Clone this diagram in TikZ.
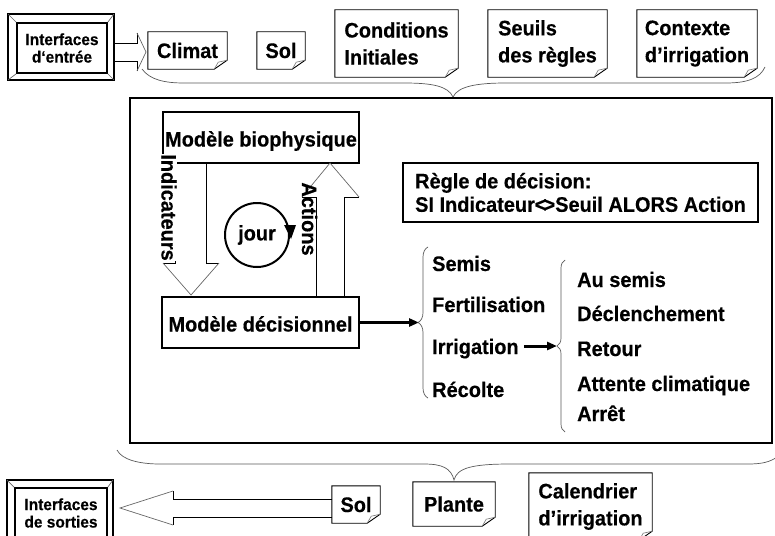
\documentclass[tikz,border=0pt]{standalone}
\usepackage{fontspec}
\setmainfont{Liberation Sans}[FakeStretch=0.95, BoldFeatures={FakeBold=0.4}]
\usetikzlibrary{arrows.meta,decorations.pathreplacing}
\newcommand\notebox[6]{% name, cx, cy, w, h, text
  \node[txt, minimum width=#4, minimum height=#5, align=left] (#1) at (#2,#3) {#6};
  \draw[noteline] (#1.north west) -- (#1.north east) -- ([yshift=9]#1.south east)
     -- ([xshift=-13]#1.south east) -- (#1.south west) -- cycle;
  \draw[foldline] ([xshift=-13]#1.south east) -- ([xshift=-9,yshift=7]#1.south east) -- ([yshift=9]#1.south east);
}
\newcommand\bevelframe[5]{% name, left, top, right, bottom offsets
  \draw[line width=1.6pt] ([xshift=-#2,yshift=#3]#1.north west) rectangle ([xshift=#4,yshift=-#5]#1.south east);
  \draw[headl] ([xshift=-#2,yshift=#3]#1.north west) -- (#1.north west);
  \draw[headl] ([xshift=#4,yshift=#3]#1.north east) -- (#1.north east);
  \draw[headl] ([xshift=-#2,yshift=-#5]#1.south west) -- (#1.south west);
  \draw[headl] ([xshift=#4,yshift=-#5]#1.south east) -- (#1.south east);
}
\begin{document}
\begin{tikzpicture}[x=1pt,y=-1pt,
  txt/.style={font=\fontsize{21}{27}\selectfont\bfseries, inner sep=0pt},
  smalltxt/.style={font=\fontsize{16.3}{17.5}\selectfont\bfseries, inner sep=0pt, align=center},
  noteline/.style={line width=0.9pt},
  foldline/.style={line width=0.6pt, black!55},
  boxl/.style={draw, line width=1.3pt},
  body/.style={line width=0.9pt},
  headl/.style={line width=0.7pt, black!60},
  brc/.style={line width=0.7pt, black!65},
  fat/.style={line width=3pt, -{Triangle[length=10pt,width=8pt]}},
  item/.style={txt, anchor=base west},
]
\useasboundingbox (0,0) rectangle (775,535);
\clip (0,0) rectangle (775,535);

% ---------- inputs ----------
\node[smalltxt, draw, line width=1.6pt, minimum width=90, minimum height=50] (inE) at (62,48) {Interfaces\\d‘entrée};
\bevelframe{inE}{8}{8}{6}{6}
\draw[body] (113,43) -- (137,43) -- (137,33);
\draw[body] (113,61) -- (137,61) -- (137,71);
\draw[headl] (137,33) -- (146,52) -- (137,71);

\notebox{climat}{187.5}{50.5}{79}{37}{Climat}
\notebox{solA}{281}{50.5}{48}{37}{Sol}
\notebox{cond}{396.5}{43.5}{123}{67}{Conditions\\Initiales}
\notebox{seuils}{547.5}{43.5}{119}{67}{Seuils\\des règles}
\notebox{ctx}{697}{43.5}{120}{67}{Contexte\\d’irrigation}

\draw[brc] (142,69) .. controls (150,80) and (165,83) .. (184,83) -- (404,83)
  .. controls (432,83) and (448,86) .. (453,97) .. controls (458,86) and (478,83) .. (506,83)
  -- (726,83) .. controls (748,83) and (760,78) .. (765,67);

% ---------- main box ----------
\node[draw, line width=2.2pt, minimum width=642, minimum height=345, inner sep=0pt] (main) at (451,270.5) {};

\node[txt, boxl, minimum width=196, minimum height=51, text height=18pt, text depth=0pt] (bio) at (261,137.5) {Modèle biophysique};
\node[txt, boxl, minimum width=197, minimum height=51, text height=18pt, text depth=0pt] (dec) at (260.5,322.5) {Modèle décisionnel};

% Indicateurs arrow
\draw[body] (175,163) -- (175,263) -- (163,263);
\draw[body] (206,163) -- (206,263) -- (219,263);
\draw[headl] (163,263) -- (191,295) -- (219,263);
\node[txt, rotate=-90, fill=white] (ind) at (169,207.5) {Indicateurs};

% Actions arrow
\draw[body] (316,297) -- (316,197) -- (302,197);
\draw[body] (344,297) -- (344,197) -- (359,197);
\draw[headl] (302,197) -- (330,163) -- (359,197);
\node[txt, rotate=-90] (act) at (309.5,219) {Actions};

% jour cycle
\node[txt, draw, circle, line width=2pt, minimum size=64] (jour) at (257,235) {jour};
\fill ([xshift=-6,yshift=10]jour.east) -- ([xshift=6,yshift=10]jour.east) -- ([xshift=1,yshift=-4]jour.east) -- cycle;

% decision rule
\node[txt, boxl, minimum width=355, minimum height=59, align=left,
      font=\fontsize{21}{23.4}\selectfont\bfseries] (regle) at (580.5,192.5)
  {Règle de décision:\\SI Indicateur<\kern-3pt>Seuil ALORS Action};

% actions list
\coordinate (b1tip) at (419,322.5);
\draw[fat] (dec.east) -- (b1tip);
\draw[brc, decorate, decoration={brace, amplitude=10pt}] (428,398) -- (428,247);
\node[item] (semis) at (432,271) {Semis};
\node[item] (fert) at (432,312) {Fertilisation};
\node[item] (irrig) at (432,354) {Irrigation};
\node[item] (recolte) at (432,397) {Récolte};

\coordinate (b2tip) at (557,346);
\draw[fat, shorten <=5pt] (irrig.east |- b2tip) -- (b2tip);
\draw[brc, decorate, decoration={brace, amplitude=8pt}] (565,432) -- (565,260);
\node[item] (ausemis) at (577,287) {Au semis};
\node[item] (decl) at (577,321) {Déclenchement};
\node[item] (retour) at (577,356) {Retour};
\node[item] (attente) at (577,391) {Attente climatique};
\node[item] (arret) at (577,421) {Arrêt};

% ---------- outputs ----------
\draw[brc] (117,450) .. controls (122,460) and (140,464) .. (160,464) -- (424,464)
  .. controls (442,464) and (451,468) .. (454,480) .. controls (457,468) and (472,464) .. (510,464)
  -- (748,464) .. controls (762,464) and (770,462) .. (777,457);

\notebox{solB}{356}{504.5}{48}{37}{Sol}
\notebox{plante}{454}{504}{82}{44}{Plante}
\notebox{cal}{590.5}{506.5}{123}{67}{Calendrier\\d’irrigation}

\draw[body] (332,499) -- (173,499) -- (173,491);
\draw[body] (332,517) -- (173,517) -- (173,525);
\draw[headl] (173,491) -- (120,508) -- (173,525);

\node[smalltxt, draw, line width=1.6pt, minimum width=92, minimum height=50] (inS) at (61,513) {Interfaces\\de sorties};
\bevelframe{inS}{7}{7}{5}{7}
\end{tikzpicture}
\end{document}
